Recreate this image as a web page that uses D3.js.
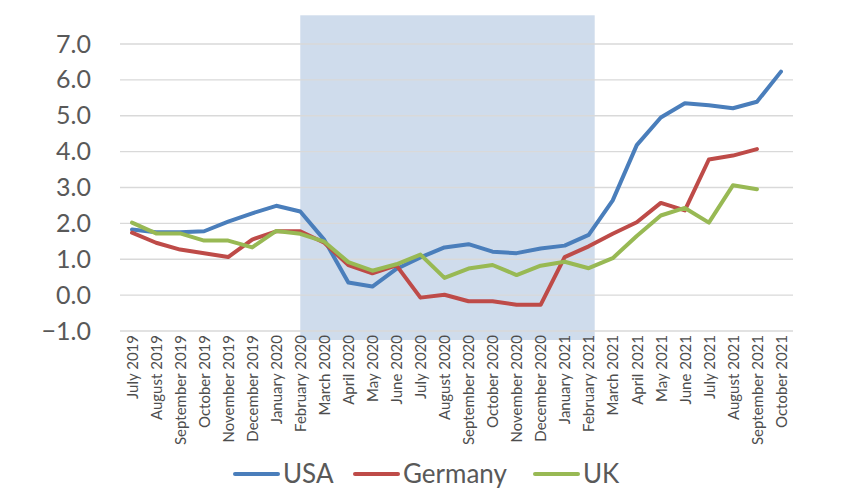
<!DOCTYPE html>
<html><head><meta charset="utf-8">
<script src="https://cdn.jsdelivr.net/npm/d3@7"></script>
<style>body{margin:0;background:#fff;} svg{display:block;}</style>
</head><body>
<svg id="c" width="847" height="491"></svg>
<script>
const months = ["July 2019","August 2019","September 2019","October 2019","November 2019","December 2019",
"January 2020","February 2020","March 2020","April 2020","May 2020","June 2020","July 2020","August 2020",
"September 2020","October 2020","November 2020","December 2020","January 2021","February 2021","March 2021",
"April 2021","May 2021","June 2021","July 2021","August 2021","September 2021","October 2021"];
const usa = [1.83,1.75,1.75,1.78,2.05,2.28,2.49,2.33,1.54,0.35,0.24,0.73,1.05,1.33,1.42,1.21,1.17,1.30,1.38,1.68,2.64,4.18,4.95,5.35,5.29,5.21,5.39,6.23];
const germany = [1.74,1.46,1.27,1.17,1.06,1.55,1.78,1.78,1.46,0.84,0.61,0.83,-0.07,0.01,-0.17,-0.17,-0.27,-0.27,1.06,1.36,1.71,2.03,2.57,2.36,3.78,3.89,4.07,null];
const uk = [2.02,1.72,1.72,1.52,1.52,1.33,1.79,1.71,1.49,0.92,0.68,0.86,1.13,0.48,0.74,0.84,0.56,0.82,0.93,0.75,1.03,1.65,2.22,2.43,2.02,3.06,2.95,null];
const yTicks = [-1,0,1,2,3,4,5,6,7];
const seriesNames = ["USA","Germany","UK"];
const colors = ["#4a7ebb","#be4b48","#98b954"];
const shadeFrom = "February 2020", shadeTo = "February 2021";

const svg = d3.select("#c");
const m = {l:120, r:54, t:44, b:160};
const W = 847, H = 491;
const x = d3.scalePoint().domain(months).range([m.l, W - m.r]).padding(0.5);
const y = d3.scaleLinear().domain([-1, 7]).range([331, 44]);
const step = x.step();
const font = "Lato, 'Open Sans', sans-serif";

// shaded period
svg.append("rect")
  .attr("x", x(shadeFrom))
  .attr("y", y(7.8))
  .attr("width", x(shadeTo) - x(shadeFrom) + step * 0.25)
  .attr("height", y(-1.25) - y(7.8))
  .attr("fill", "#cfdcec");

// gridlines
svg.append("g").selectAll("line").data(yTicks).join("line")
  .attr("x1", m.l).attr("x2", W - m.r)
  .attr("y1", d => y(d)).attr("y2", d => y(d))
  .attr("stroke", "#d9d9d9").attr("stroke-width", 1.3);

// y axis labels
const yAxis = d3.axisLeft(y).tickValues(yTicks).tickFormat(d3.format(".1f")).tickSize(0).tickPadding(0);
const ya = svg.append("g").attr("transform", "translate(91,0)").call(yAxis);
ya.select(".domain").remove();
ya.selectAll("text").attr("font-family", font).attr("font-size", 25).attr("fill", "#595959");

// x axis labels
const xAxis = d3.axisBottom(x).tickSize(0).tickPadding(0);
const xa = svg.append("g").attr("transform", `translate(0,${y(-1)})`).call(xAxis);
xa.select(".domain").remove();
xa.selectAll("text")
  .attr("font-family", font).attr("font-size", 15).attr("fill", "#4d4d4d")
  .attr("transform", "rotate(-90)")
  .attr("text-anchor", "end")
  .attr("x", -4).attr("y", 0).attr("dy", "0.35em");

// lines
const data = [usa, germany, uk];
const line = d3.line().defined(d => d.v != null).x(d => x(d.m)).y(d => y(d.v));
data.forEach((s, i) => {
  svg.append("path")
    .datum(s.map((v, j) => ({m: months[j], v})))
    .attr("d", line)
    .attr("fill", "none")
    .attr("stroke", colors[i])
    .attr("stroke-width", 4)
    .attr("stroke-linejoin", "round")
    .attr("stroke-linecap", "round");
});

// legend
const leg = svg.append("g").attr("font-family", font).attr("font-size", 26).attr("fill","#595959");
const legX = [235, 355, 535];
seriesNames.forEach((n, i) => {
  const g = leg.append("g").attr("transform", `translate(${legX[i]},474)`);
  g.append("line").attr("x1", 0).attr("x2", 43).attr("stroke", colors[i]).attr("stroke-width", 4).attr("stroke-linecap","round");
  g.append("text").attr("x", 48).attr("dy", "0.35em").text(n);
});
</script>
</body></html>
